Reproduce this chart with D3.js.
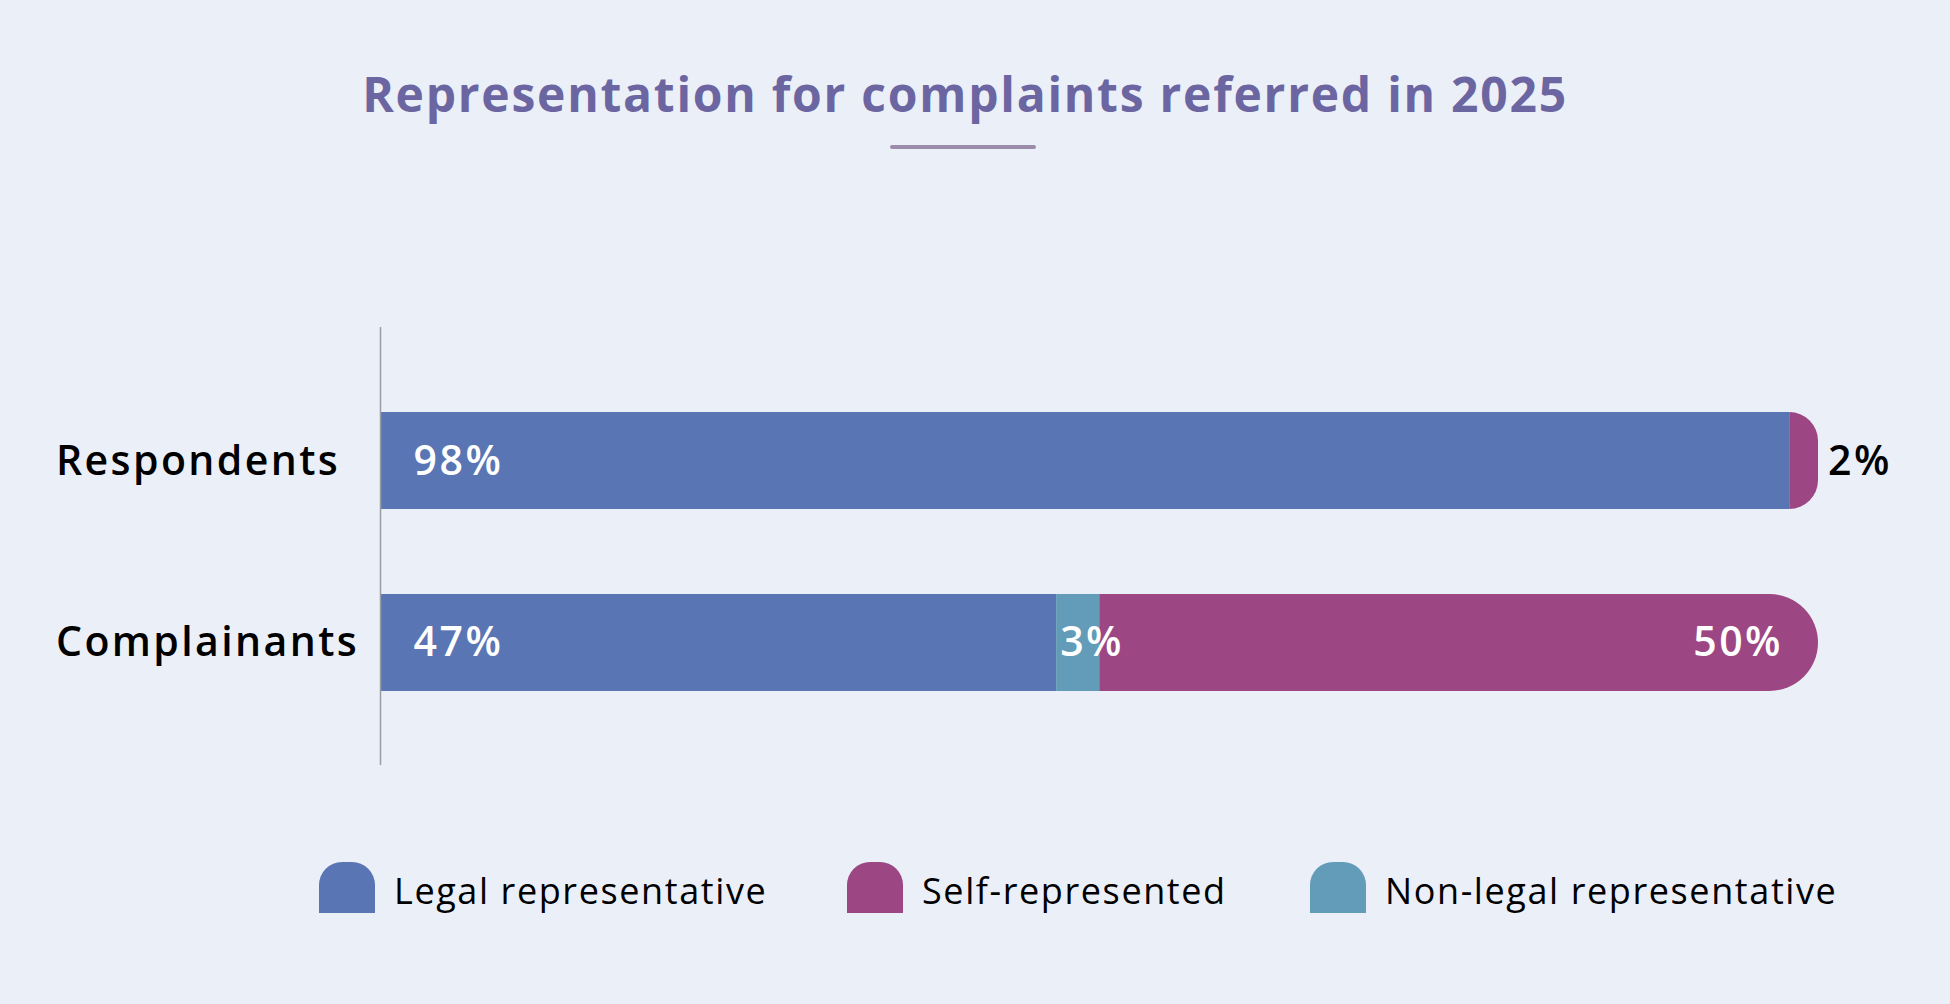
<!DOCTYPE html>
<html>
<head>
<meta charset="utf-8">
<script src="https://cdn.jsdelivr.net/npm/d3@7"></script>
<style>
  html, body { margin: 0; padding: 0; background: #ebeff7; }
  svg { display: block; }
  text { font-family: "Open Sans", "DejaVu Sans", sans-serif; }
</style>
</head>
<body>
<svg id="chart" width="1950" height="1004"></svg>
<script>
// ---- data ----
const title = "Representation for complaints referred in 2025";
const categories = ["Respondents", "Complainants"];
const seriesNames = ["Legal representative", "Non-legal representative", "Self-represented"];
const legendOrder = ["Legal representative", "Self-represented", "Non-legal representative"];
const legalValues    = [98, 47];
const nonLegalValues = [0, 3];
const selfValues     = [2, 50];
const colors = ["#5a75b4", "#629cb8", "#9c4783"];

// ---- setup ----
const svg = d3.select("#chart");
const W = 1950, H = 1004;
svg.append("rect").attr("width", W).attr("height", H).attr("fill", "#ebeff7");

const x = d3.scaleLinear().domain([0, 100]).range([380.5, 1818]);
const y = d3.scaleBand().domain(categories).range([412, 691]).paddingInner(0.467).paddingOuter(0);
const color = d3.scaleOrdinal().domain(seriesNames).range(colors);

// title
svg.append("text")
  .attr("x", 965).attr("y", 112)
  .attr("text-anchor", "middle")
  .attr("font-size", 48).attr("font-weight", 700)
  .attr("letter-spacing", 1.75)
  .attr("fill", "#6b66a1")
  .text(title);
svg.append("line")
  .attr("x1", 892).attr("x2", 1034).attr("y1", 147).attr("y2", 147)
  .attr("stroke", "#9b8ca9").attr("stroke-width", 4).attr("stroke-linecap", "round");

// stack
const rows = categories.map((c, i) => ({
  category: c,
  "Legal representative": legalValues[i],
  "Non-legal representative": nonLegalValues[i],
  "Self-represented": selfValues[i]
}));
const stacked = d3.stack().keys(seriesNames)(rows);

function segPath(x0, x1, y0, h, r) {
  // rectangle with rounded right corners of radius r
  r = Math.min(r, x1 - x0, h / 2);
  return `M${x0},${y0} L${x1 - r},${y0} A${r},${r} 0 0 1 ${x1},${y0 + r} L${x1},${y0 + h - r} A${r},${r} 0 0 1 ${x1 - r},${y0 + h} L${x0},${y0 + h} Z`;
}

const bw = y.bandwidth();
stacked.forEach((layer, li) => {
  layer.forEach((d, i) => {
    const v = d[1] - d[0];
    if (v <= 0) return;
    const x0 = x(d[0]), x1 = x(d[1]);
    const y0 = y(categories[i]);
    const isLast = d[1] >= 100 - 1e-9;
    if (isLast) {
      svg.append("path")
        .attr("d", segPath(x0, x1, y0, bw, bw / 2))
        .attr("fill", color(layer.key));
    } else {
      svg.append("rect")
        .attr("x", x0).attr("y", y0).attr("width", x1 - x0).attr("height", bw)
        .attr("fill", color(layer.key));
    }
  });
});

// value labels
stacked.forEach((layer, li) => {
  layer.forEach((d, i) => {
    const v = d[1] - d[0];
    if (v <= 0) return;
    const x0 = x(d[0]), x1 = x(d[1]);
    const cy = y(categories[i]) + bw / 2;
    let lx, anchor = "start", fill = "#ffffff";
    if (v < 2.5) { lx = x1 + 10; fill = "#000000"; }
    else if (v < 5) { lx = x0 + 4; }
    else if (li === 0) { lx = x0 + 33; }
    else { lx = x1 - 35; anchor = "end"; }
    svg.append("text")
      .attr("x", lx).attr("y", cy + 14)
      .attr("text-anchor", anchor)
      .attr("font-size", 41).attr("font-weight", 600)
      .attr("letter-spacing", 2.5)
      .attr("fill", fill)
      .text(v + "%");
  });
});

// category labels
categories.forEach(c => {
  svg.append("text")
    .attr("x", 56).attr("y", y(c) + bw / 2 + 14)
    .attr("font-size", 41).attr("font-weight", 600)
    .attr("letter-spacing", 2.4)
    .attr("fill", "#000")
    .text(c);
});

// axis line
svg.append("line")
  .attr("x1", x(0)).attr("x2", x(0)).attr("y1", 327).attr("y2", 765)
  .attr("stroke", "#9a9ca3").attr("stroke-width", 1.5);

// legend
const legendX = [319, 847, 1310];
legendOrder.forEach((name, i) => {
  const lx = legendX[i], top = 862, w = 56, h = 51, r = 23;
  svg.append("path")
    .attr("d", `M${lx},${top + h} L${lx},${top + r} A${r},${r} 0 0 1 ${lx + r},${top} L${lx + w - r},${top} A${r},${r} 0 0 1 ${lx + w},${top + r} L${lx + w},${top + h} Z`)
    .attr("fill", color(name));
  svg.append("text")
    .attr("x", lx + w + 19).attr("y", 904)
    .attr("font-size", 36).attr("font-weight", 400)
    .attr("letter-spacing", 1.6)
    .attr("fill", "#000")
    .text(name);
});
</script>
</body>
</html>
